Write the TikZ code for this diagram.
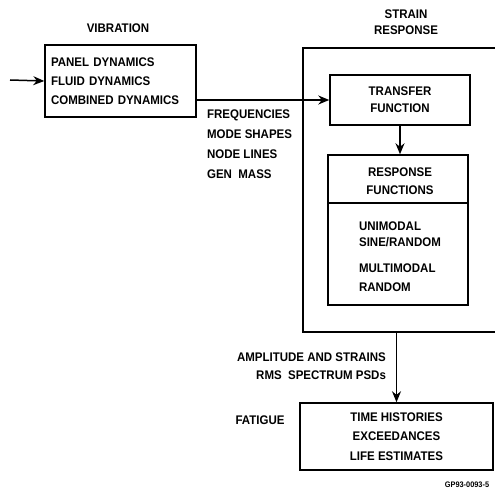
\documentclass[tikz,border=0pt]{standalone}
\usepackage{fontspec}
\setmainfont{Liberation Sans}[FakeStretch=0.92]
\usepackage{tikz}
\usetikzlibrary{arrows.meta}

\begin{document}
\begin{tikzpicture}[x=1pt,y=-1pt,line width=1.5pt,>={Stealth[length=11pt,width=9pt]},
  font=\fontsize{12.5}{19}\selectfont\bfseries,
  blk/.style={draw,rectangle,inner sep=0pt,minimum width=#1},
  lbl/.style={align=center,font=\fontsize{12.5}{17}\selectfont\bfseries}]
\useasboundingbox (0,0) rectangle (495,492);
% boxes
\node[blk=151,minimum height=72,align=left,text width=139] (vib) at (120.5,81) {PANEL DYNAMICS\\FLUID DYNAMICS\\COMBINED DYNAMICS};
\node[blk=200,minimum height=284] (strain) at (403,190) {};
\node[blk=140,minimum height=50,lbl] (tf) at (400,100) {TRANSFER\\FUNCTION};
\node[blk=140,minimum height=150] (resp) at (398,230) {};
\draw (resp.west |- 0,203) -- (resp.east |- 0,203);
\node[lbl,font=\fontsize{12.5}{18}\selectfont\bfseries] (rf) at (400,181) {RESPONSE\\FUNCTIONS};
\node[align=left,anchor=west,font=\fontsize{12.5}{16.5}\selectfont\bfseries] (uni) at (355,234.5) {UNIMODAL\\SINE/RANDOM};
\node[align=left,anchor=west,font=\fontsize{12.5}{18.5}\selectfont\bfseries] (multi) at (355,277.5) {MULTIMODAL\\RANDOM};
\node[blk=193,minimum height=67,align=center,font=\fontsize{12.5}{19.5}\selectfont\bfseries] (fat) at (396.5,436.5) {TIME HISTORIES\\EXCEEDANCES\\LIFE ESTIMATES};
% titles
\node (vibt) at (118,28) {VIBRATION};
\node[lbl,font=\fontsize{12.5}{15.5}\selectfont\bfseries] (strt) at (406,22) {STRAIN\\RESPONSE};
\node (fatt) at (260,420) {FATIGUE};
% connectors
\coordinate (in) at (10,80);
\draw[->] (in) -- (vib.west);
\draw[->] (vib.east |- tf.west) -- (tf.west);
\draw[->] (tf.south) -- (tf.south |- resp.north);
\draw[->] (fat.north |- strain.south) -- (fat.north);
% labels on the connectors
\node[align=left,anchor=north west,font=\fontsize{12.5}{20}\selectfont\bfseries] (modes) at (203,106) {FREQUENCIES\\MODE SHAPES\\NODE LINES\\GEN~~MASS};
\node[align=right,anchor=east,font=\fontsize{12.5}{18}\selectfont\bfseries] (amp) at (390,366) {AMPLITUDE AND STRAINS\\RMS~~SPECTRUM PSDs};
\node[font=\fontsize{8}{9}\selectfont\bfseries] (gp) at (467,485) {GP93-0093-5};
\end{tikzpicture}
\end{document}
